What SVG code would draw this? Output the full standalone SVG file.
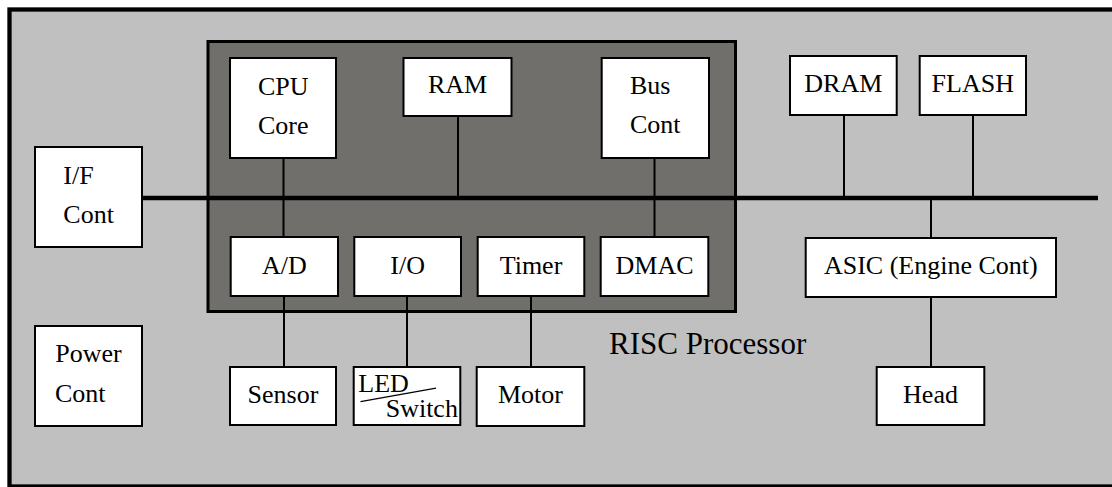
<svg xmlns="http://www.w3.org/2000/svg" width="1112" height="487" viewBox="0 0 1112 487">
  <style>
    .box { fill: #ffffff; stroke: #000000; stroke-width: 2; }
    .lbl { font-family: 'Liberation Serif', 'Times New Roman', Tinos, serif; font-size: 26px; fill: #000000; }
    .mid { text-anchor: middle; }
    .wire { stroke: #000000; stroke-width: 2; fill: none; }
    .bus { stroke: #000000; stroke-width: 4.3; fill: none; }
  </style>

  <!-- board -->
  <rect id="board" x="9.5" y="9.5" width="1120" height="477" fill="#c0c0c0" stroke="#000000" stroke-width="4.3"/>

  <!-- processor block -->
  <g id="risc-processor">
    <rect x="208" y="41.5" width="527.5" height="270" fill="#716f6c" stroke="#000000" stroke-width="3"/>
    <text class="lbl" x="609" y="354" style="font-size:31px">RISC Processor</text>
  </g>

  <!-- connectors -->
  <g id="connectors">
    <line class="bus" x1="142" y1="198" x2="1098" y2="198"/>
    <line class="wire" x1="283.5" y1="158" x2="283.5" y2="237"/>
    <line class="wire" x1="458" y1="116" x2="458" y2="198"/>
    <line class="wire" x1="654.5" y1="158" x2="654.5" y2="237"/>
    <line class="wire" x1="844" y1="115" x2="844" y2="198"/>
    <line class="wire" x1="973" y1="115" x2="973" y2="198"/>
    <line class="wire" x1="931" y1="198" x2="931" y2="238"/>
    <line class="wire" x1="931" y1="297" x2="931" y2="367"/>
    <line class="wire" x1="284" y1="296" x2="284" y2="367"/>
    <line class="wire" x1="407" y1="296" x2="407" y2="367"/>
    <line class="wire" x1="531" y1="296" x2="531" y2="367"/>
  </g>

  <g id="cpu-core">
    <rect class="box" x="230" y="58" width="106" height="100"/>
    <text class="lbl" x="258" y="95">CPU</text>
    <text class="lbl" x="258" y="134.3">Core</text>
  </g>

  <g id="ram">
    <rect class="box" x="403.5" y="58" width="108" height="58"/>
    <text class="lbl mid" x="457.5" y="93">RAM</text>
  </g>

  <g id="bus-cont">
    <rect class="box" x="601.7" y="58" width="107.3" height="100"/>
    <text class="lbl" x="630" y="94">Bus</text>
    <text class="lbl" x="630" y="133.3">Cont</text>
  </g>

  <g id="dram">
    <rect class="box" x="790" y="56" width="106.7" height="59"/>
    <text class="lbl mid" x="843.3" y="92">DRAM</text>
  </g>

  <g id="flash">
    <rect class="box" x="919.7" y="56" width="106.3" height="59"/>
    <text class="lbl mid" x="972.8" y="92">FLASH</text>
  </g>

  <g id="if-cont">
    <rect class="box" x="35" y="147" width="107" height="100"/>
    <text class="lbl" x="63.3" y="184.3">I/F</text>
    <text class="lbl" x="63.3" y="223.3">Cont</text>
  </g>

  <g id="ad">
    <rect class="box" x="230.7" y="237" width="107.3" height="59"/>
    <text class="lbl mid" x="284.3" y="273.5">A/D</text>
  </g>

  <g id="io">
    <rect class="box" x="354.3" y="237" width="106.7" height="59"/>
    <text class="lbl mid" x="407.7" y="273.5">I/O</text>
  </g>

  <g id="timer">
    <rect class="box" x="477.7" y="237" width="106.6" height="59"/>
    <text class="lbl mid" x="531" y="273.5">Timer</text>
  </g>

  <g id="dmac">
    <rect class="box" x="600.7" y="237" width="107.6" height="59"/>
    <text class="lbl mid" x="654.5" y="273.5">DMAC</text>
  </g>

  <g id="asic">
    <rect class="box" x="805.7" y="238" width="250.3" height="59"/>
    <text class="lbl mid" x="930.8" y="274">ASIC (Engine Cont)</text>
  </g>

  <g id="power-cont">
    <rect class="box" x="35" y="326" width="107" height="100"/>
    <text class="lbl mid" x="88.5" y="362.3">Power</text>
    <text class="lbl" x="55" y="402.3">Cont</text>
  </g>

  <g id="sensor">
    <rect class="box" x="230" y="367" width="106" height="58"/>
    <text class="lbl mid" x="283" y="402.7">Sensor</text>
  </g>

  <g id="led-switch">
    <rect class="box" x="353.7" y="367" width="106.6" height="58"/>
    <text class="lbl" x="358.3" y="392.3">LED</text>
    <line x1="360.5" y1="401.7" x2="436" y2="388.2" stroke="#000000" stroke-width="1.2"/>
    <text class="lbl" x="385.7" y="416.7">Switch</text>
  </g>

  <g id="motor">
    <rect class="box" x="476.7" y="367" width="107.6" height="59"/>
    <text class="lbl mid" x="530.5" y="403.3">Motor</text>
  </g>

  <g id="head">
    <rect class="box" x="876.7" y="367" width="107.6" height="58"/>
    <text class="lbl mid" x="930.5" y="402.7">Head</text>
  </g>
</svg>
